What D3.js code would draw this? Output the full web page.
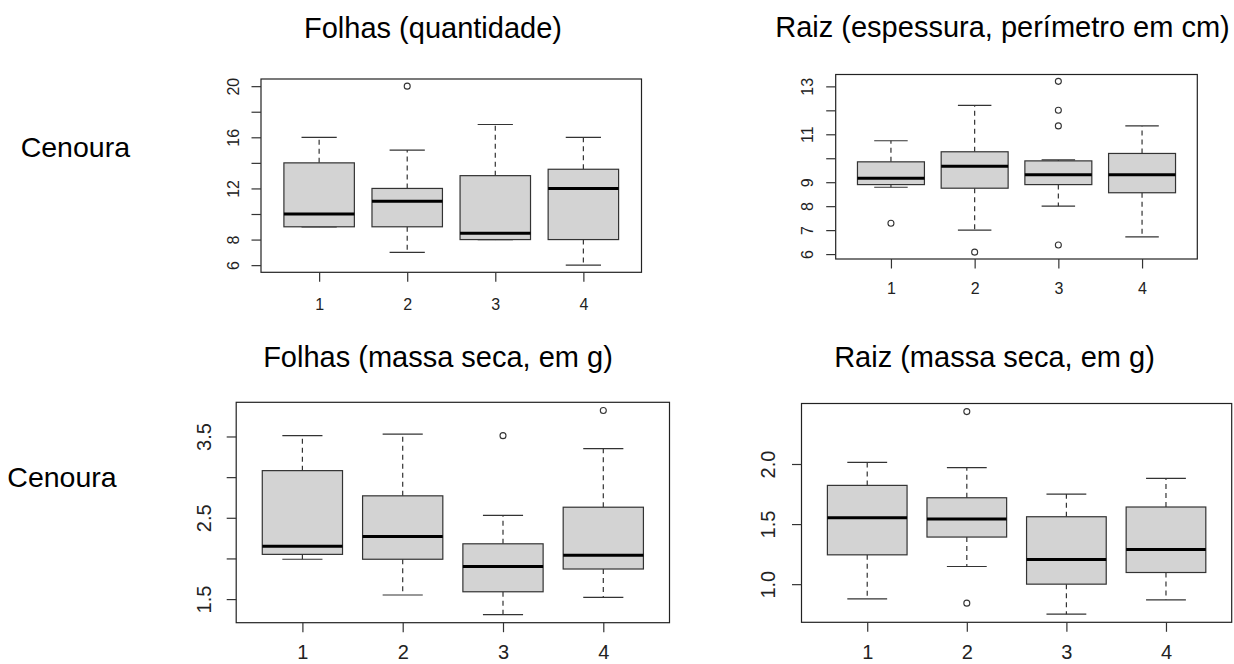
<!DOCTYPE html>
<html>
<head>
<meta charset="utf-8">
<script src="https://cdn.jsdelivr.net/npm/d3@7"></script>
<style>
  body { margin: 0; background: #fff; }
  svg text { font-family: "Liberation Sans", Arial, sans-serif; }
</style>
</head>
<body>
<div id="chart"></div>
<script>
// Box plots, 4 groups each: [lower whisker, Q1, median, Q3, upper whisker]
const groups = ['1', '2', '3', '4'];

const folhasQtd = [[9, 9, 10, 14, 16], [7, 9, 11, 12, 15], [8, 8, 8.5, 13, 17], [6, 8, 12, 13.5, 16]];
const folhasQtdOut = [[], [20], [], []];
const folhasQtdTicks = [6, 8, 10, 12, 14, 16, 18, 20];
const folhasQtdLabels = [6, 8, 12, 16, 20];

const raizEsp = [[8.79, 8.9, 9.17, 9.85, 10.73], [7.0, 8.75, 9.67, 10.27, 12.21], [8.0, 8.9, 9.31, 9.89, 9.93], [6.72, 8.56, 9.31, 10.2, 11.35]];
const raizEspOut = [[7.29], [6.08], [13.21, 12.0, 11.35, 6.38], []];
const raizEspTicks = [6, 7, 8, 9, 10, 11, 12, 13];
const raizEspLabels = [6, 7, 8, 9, 11, 13];

const folhasMassa = [[1.99, 2.05, 2.15, 3.08, 3.51], [1.55, 1.99, 2.27, 2.77, 3.53], [1.31, 1.59, 1.9, 2.18, 2.53], [1.52, 1.87, 2.04, 2.63, 3.35]];
const folhasMassaOut = [[], [], [3.51], [3.82]];
const folhasMassaTicks = [1.5, 2.0, 2.5, 3.0, 3.5];
const folhasMassaLabels = [1.5, 2.5, 3.5];

const raizMassa = [[0.878, 1.244, 1.553, 1.822, 2.014], [1.147, 1.392, 1.542, 1.719, 1.97], [0.75, 1.0, 1.206, 1.561, 1.75], [0.869, 1.097, 1.289, 1.642, 1.881]];
const raizMassaOut = [[], [2.436, 0.842], [], []];
const raizMassaTicks = [1.0, 1.5, 2.0];
const raizMassaLabels = [1.0, 1.5, 2.0];

const width = 1234;
const height = 664;

const svg = d3.select('#chart')
    .append('svg')
    .attr('width', width)
    .attr('height', height);

const panels = [
    { title: 'Folhas (quantidade)', titleX: 433, titleY: 38, stats: folhasQtd, out: folhasQtdOut,
      ticks: folhasQtdTicks, labels: folhasQtdLabels, fmt: d3.format('d'),
      left: 261, right: 641.5, top: 79, bottom: 272.3, font: 16, yOff: 22, xOff: 37.5 },
    { title: 'Raiz (espessura, perímetro em cm)', titleX: 1002.5, titleY: 37, stats: raizEsp, out: raizEspOut,
      ticks: raizEspTicks, labels: raizEspLabels, fmt: d3.format('d'),
      left: 835.7, right: 1197.3, top: 74.5, bottom: 259, font: 16, yOff: 22.7, xOff: 35 },
    { title: 'Folhas (massa seca, em g)', titleX: 438, titleY: 367, stats: folhasMassa, out: folhasMassaOut,
      ticks: folhasMassaTicks, labels: folhasMassaLabels, fmt: d3.format('.1f'),
      left: 236.2, right: 669.5, top: 402.3, bottom: 622.7, font: 20, yOff: 25, xOff: 36.5 },
    { title: 'Raiz (massa seca, em g)', titleX: 994.5, titleY: 367, stats: raizMassa, out: raizMassaOut,
      ticks: raizMassaTicks, labels: raizMassaLabels, fmt: d3.format('.1f'),
      left: 801.5, right: 1231.7, top: 403.5, bottom: 622.3, font: 20, yOff: 26.5, xOff: 36.9 }
];

// Row labels
svg.append('text')
    .attr('x', 20.7)
    .attr('y', 157)
    .attr('font-size', '28.5px')
    .attr('fill', '#000')
    .text('Cenoura');

svg.append('text')
    .attr('x', 7.3)
    .attr('y', 487)
    .attr('font-size', '28.5px')
    .attr('fill', '#000')
    .text('Cenoura');

panels.forEach(p => {
    const n = groups.length;
    // R-style limits: 0.5..n+0.5, padded by 4%
    const xPad = n * 0.04;
    const x = d3.scaleLinear()
        .domain([0.5 - xPad, n + 0.5 + xPad])
        .range([p.left, p.right]);

    const allVals = p.stats.flat().concat(p.out.flat());
    const [lo, hi] = d3.extent(allVals);
    const yPad = (hi - lo) * 0.04;
    const y = d3.scaleLinear()
        .domain([lo - yPad, hi + yPad])
        .range([p.bottom, p.top]);

    const boxW = 0.8 * (x(2) - x(1));
    const stapleW = boxW / 2;

    // Title
    svg.append('text')
        .attr('x', p.titleX)
        .attr('y', p.titleY)
        .attr('text-anchor', 'middle')
        .attr('font-size', '29px')
        .attr('fill', '#000')
        .text(p.title);

    const g = svg.append('g');

    p.stats.forEach((s, i) => {
        const cx = x(i + 1);
        const [wLo, q1, med, q3, wHi] = s;

        // Whiskers (dashed)
        g.append('line')
            .attr('x1', cx).attr('x2', cx)
            .attr('y1', y(q3)).attr('y2', y(wHi))
            .attr('stroke', '#333')
            .attr('stroke-width', 1.2)
            .attr('stroke-dasharray', '5,4');
        g.append('line')
            .attr('x1', cx).attr('x2', cx)
            .attr('y1', y(q1)).attr('y2', y(wLo))
            .attr('stroke', '#333')
            .attr('stroke-width', 1.2)
            .attr('stroke-dasharray', '5,4');

        // Staples
        [wLo, wHi].forEach(v => {
            g.append('line')
                .attr('x1', cx - stapleW / 2).attr('x2', cx + stapleW / 2)
                .attr('y1', y(v)).attr('y2', y(v))
                .attr('stroke', '#333')
                .attr('stroke-width', 1.2);
        });

        // Box
        g.append('rect')
            .attr('x', cx - boxW / 2)
            .attr('y', y(q3))
            .attr('width', boxW)
            .attr('height', y(q1) - y(q3))
            .attr('fill', '#d3d3d3')
            .attr('stroke', '#333')
            .attr('stroke-width', 1.2);

        // Median
        g.append('line')
            .attr('x1', cx - boxW / 2).attr('x2', cx + boxW / 2)
            .attr('y1', y(med)).attr('y2', y(med))
            .attr('stroke', '#000')
            .attr('stroke-width', 3);

        // Outliers
        p.out[i].forEach(v => {
            g.append('circle')
                .attr('cx', cx)
                .attr('cy', y(v))
                .attr('r', 3)
                .attr('fill', 'none')
                .attr('stroke', '#333')
                .attr('stroke-width', 1.1);
        });
    });

    // Frame
    svg.append('rect')
        .attr('x', p.left)
        .attr('y', p.top)
        .attr('width', p.right - p.left)
        .attr('height', p.bottom - p.top)
        .attr('fill', 'none')
        .attr('stroke', '#222')
        .attr('stroke-width', 1.2);

    // Y axis: ticks on all values, labels only on some, rotated like R
    const yAxis = svg.append('g')
        .attr('transform', `translate(${p.left},0)`)
        .call(d3.axisLeft(y)
            .tickValues(p.ticks)
            .tickSize(9.5)
            .tickSizeOuter(0)
            .tickFormat(d => p.labels.includes(d) ? p.fmt(d) : ''));
    yAxis.select('.domain').remove();
    yAxis.selectAll('.tick line').attr('stroke', '#333').attr('stroke-width', 1.2);
    yAxis.selectAll('.tick text')
        .attr('x', null)
        .attr('dy', null)
        .attr('transform', `translate(${-p.yOff},0) rotate(-90)`)
        .attr('text-anchor', 'middle')
        .attr('font-family', '"Liberation Sans", Arial, sans-serif')
        .attr('font-size', p.font + 'px')
        .attr('fill', '#222');

    // X axis
    const xAxis = svg.append('g')
        .attr('transform', `translate(0,${p.bottom})`)
        .call(d3.axisBottom(x)
            .tickValues(groups.map((d, i) => i + 1))
            .tickSize(9.5)
            .tickSizeOuter(0)
            .tickFormat((d, i) => groups[i]));
    xAxis.select('.domain').remove();
    xAxis.selectAll('.tick line').attr('stroke', '#333').attr('stroke-width', 1.2);
    xAxis.selectAll('.tick text')
        .attr('y', p.xOff)
        .attr('dy', null)
        .attr('font-family', '"Liberation Sans", Arial, sans-serif')
        .attr('font-size', p.font + 'px')
        .attr('fill', '#222');
});
</script>
</body>
</html>
